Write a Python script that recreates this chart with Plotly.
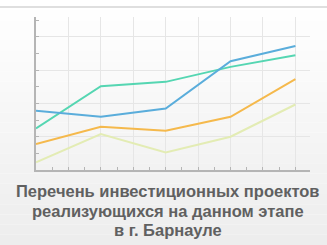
import plotly.graph_objects as go

x_vals = [0, 4, 8, 12, 16]
blue = [3.56, 3.2, 3.7, 6.54, 7.46]
teal = [2.5, 5.04, 5.3, 6.2, 6.9]
orange = [1.56, 2.6, 2.36, 3.2, 5.46]
pale = [0.46, 2.16, 1.06, 2.0, 3.94]

title_lines = ["Перечень инвестиционных проектов",
               "реализующихся на данном этапе",
               "в г. Барнауле"]

fig = go.Figure()
series = [(pale, "#e3ecb4"), (orange, "#f5b94c"), (teal, "#55d6b2"), (blue, "#5aaddb")]
for ys, c in series:
    fig.add_trace(go.Scatter(x=x_vals, y=ys, mode="lines",
                             line=dict(color=c, width=2), hoverinfo="skip"))

H = 153.0
shapes = []
n = 24
for i in range(n):
    t = i / (n - 1)
    v = int(round(255 - 18 * t))
    shapes.append(dict(type="rect", xref="paper", yref="paper",
                       x0=-0.2, x1=1.2, y0=1 + 17/H - (i + 1) * (245/H) / n,
                       y1=1 + 17/H - i * (245/H) / n,
                       fillcolor=f"rgb({v},{v},{v})", line=dict(width=0), layer="below"))
shapes.append(dict(type="line", xref="paper", yref="paper", x0=-0.2, x1=1.2,
                   y0=1 + 10/H, y1=1 + 10/H, line=dict(color="#d4d4d4", width=1.5)))

ann = []
centers = [191, 211, 230]
for i, t in enumerate(title_lines):
    ann.append(dict(text=t, xref="paper", yref="paper", x=(167.5-36)/274, y=-(centers[i] - 170)/H,
                    xanchor="center", yanchor="middle", showarrow=False,
                    font=dict(family="Liberation Sans, Arial", size=16.5, color="#606060",
                              weight="bold")))

fig.update_layout(
    width=327, height=245, margin=dict(l=36, r=17, t=17, b=75),
    paper_bgcolor="white", plot_bgcolor="rgba(0,0,0,0)",
    showlegend=False, shapes=shapes, annotations=ann,
    xaxis=dict(range=[0, 16.9], dtick=2, showgrid=True, gridcolor="#e6e6e6", gridwidth=1,
               showline=True, linecolor="#b5b5b5", linewidth=1.5, zeroline=False,
               ticks="inside", ticklen=3, tickcolor="#b5b5b5", showticklabels=False,
               minor=dict(dtick=1, ticks="inside", ticklen=3, tickcolor="#b5b5b5", showgrid=False)),
    yaxis=dict(range=[0, 9.2], dtick=2, showgrid=True, gridcolor="#e6e6e6", gridwidth=1,
               showline=True, linecolor="#b5b5b5", linewidth=1.5, zeroline=False,
               ticks="inside", ticklen=3, tickcolor="#b5b5b5", showticklabels=False,
               minor=dict(dtick=1, ticks="inside", ticklen=3, tickcolor="#b5b5b5", showgrid=False)),
)

fig.write_html("out.html", config={"displayModeBar": False})
with open("out.html", encoding="utf-8") as f:
    html = f.read()
html = html.replace("<body>", '<body style="margin:0;padding:0;overflow:hidden">', 1)
with open("out.html", "w", encoding="utf-8") as f:
    f.write(html)
